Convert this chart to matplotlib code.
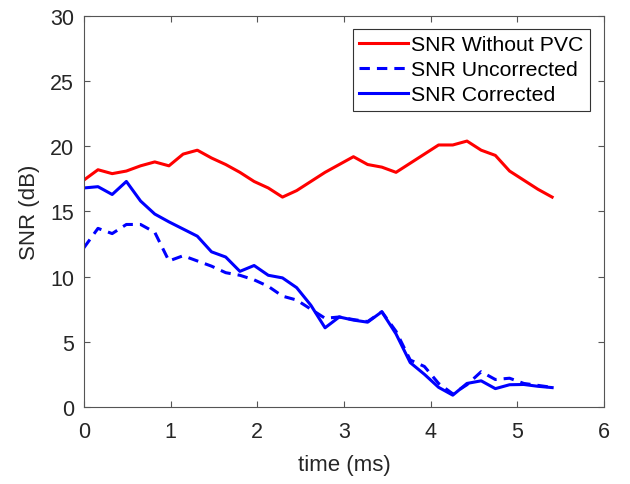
import numpy as np
import matplotlib
matplotlib.use("Agg")
import matplotlib.pyplot as plt

plt.rcParams['font.family'] = ['Liberation Sans', 'DejaVu Sans']

# 34 samples from 0 to 5.4 ms
time_ms = np.linspace(0, 5.4, 34)

snr_without_pvc = [17.4, 18.2, 17.9, 18.1, 18.5, 18.8, 18.5, 19.4, 19.7, 19.1,
                   18.6, 18.0, 17.3, 16.8, 16.1, 16.6, 17.3, 18.0, 18.6, 19.2,
                   18.6, 18.4, 18.0, 18.7, 19.4, 20.1, 20.1, 20.4, 19.7, 19.3,
                   18.1, 17.4, 16.7, 16.1]
snr_uncorrected = [12.2, 13.7, 13.3, 14.0, 14.0, 13.4, 11.2, 11.6, 11.2, 10.8,
                   10.3, 10.1, 9.75, 9.25, 8.5, 8.2, 7.5, 6.8, 6.9, 6.7,
                   6.55, 7.3, 5.8, 3.6, 3.1, 1.8, 1.0, 1.7, 2.7, 2.1,
                   2.2, 1.8, 1.65, 1.5]
snr_corrected = [16.8, 16.9, 16.3, 17.3, 15.8, 14.8, 14.2, 13.65, 13.1, 11.9,
                 11.5, 10.4, 10.85, 10.1, 9.9, 9.15, 7.8, 6.07, 6.9, 6.66,
                 6.5, 7.3, 5.6, 3.4, 2.5, 1.5, 0.9, 1.8, 2.0, 1.4,
                 1.7, 1.72, 1.58, 1.48]

labels = ['SNR Without PVC', 'SNR Uncorrected', 'SNR Corrected']

fig = plt.figure(figsize=(6.3, 4.85), dpi=100)
ax = fig.add_axes([0.133, 0.159, 0.826, 0.806])

ax.plot(time_ms, snr_without_pvc, color=(1, 0, 0), lw=2.2, label=labels[0])
ax.plot(time_ms, snr_uncorrected, color=(0, 0, 1), lw=2.2, ls=(0, (3.4, 2.3)), label=labels[1])
ax.plot(time_ms, snr_corrected, color=(0, 0, 1), lw=2.2, label=labels[2])

ax.set_xlim(0, 6)
ax.set_ylim(0, 30)
ax.set_xticks(range(0, 7))
ax.set_yticks(range(0, 31, 5))

gray = '#262626'
for s in ax.spines.values():
    s.set_color('#555555')
    s.set_linewidth(0.8)
ax.tick_params(direction='in', top=True, right=True, length=4, width=0.8,
               color='#555555', labelcolor=gray, labelsize=15.5)
ax.tick_params(axis='x', pad=10)
ax.tick_params(axis='y', pad=7)

ax.set_xlabel('time (ms)', fontsize=16, color=gray, labelpad=9)
ax.set_ylabel('SNR (dB)', fontsize=16, color=gray, labelpad=7)

leg = ax.legend(loc='upper right', fontsize=15.3, handlelength=2.3,
                handletextpad=0.15, borderpad=0.3, labelspacing=0.28,
                borderaxespad=0, fancybox=False, framealpha=1,
                edgecolor='#333333', bbox_to_anchor=(0.973, 0.967))
leg.get_frame().set_linewidth(0.8)

fig.savefig('out.png', dpi=100)
